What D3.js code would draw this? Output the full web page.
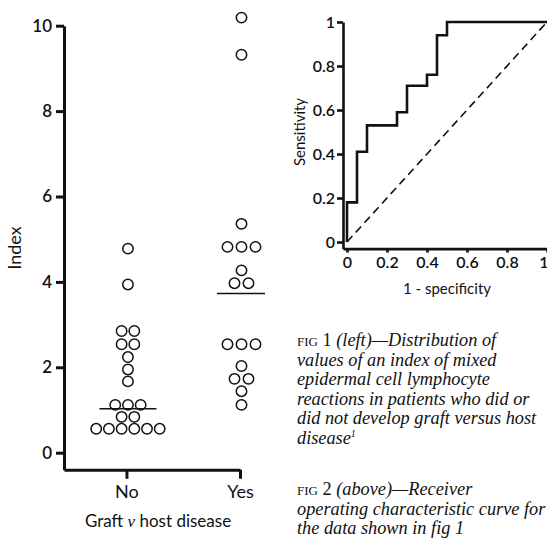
<!DOCTYPE html>
<html>
<head>
<meta charset="utf-8">
<script src="https://cdn.jsdelivr.net/npm/d3@7"></script>
<style>
  body { margin: 0; background: #fff; }
  svg { display: block; }
  .ax text { font-family: Lato, sans-serif; font-weight: 600; fill: #111; }
  .ax path, .ax line { stroke: #111; }
  .cap { font-family: "Liberation Serif", serif; font-style: italic; font-size: 18.3px; fill: #111; }
</style>
</head>
<body>
<script>
// fig 1: index for each patient
const groups = ["No", "Yes"];
const noValues = [4.78, 3.94, 2.85, 2.85, 2.54, 2.54, 2.24, 1.95, 1.67,
    1.12, 1.12, 1.12, 0.84, 0.84, 0.56, 0.56, 0.56, 0.56, 0.56, 0.56];
const yesValues = [10.19, 9.32, 5.36, 4.82, 4.82, 4.82, 4.27, 3.97, 3.97,
    2.54, 2.54, 2.54, 2.03, 1.73, 1.73, 1.44, 1.12];
const medians = [1.03, 3.73];
const indexTicks = [0, 2, 4, 6, 8, 10];

// fig 2: ROC step curve
const fpr = [0, 0, 0.05, 0.05, 0.1, 0.1, 0.25, 0.25, 0.3, 0.3, 0.4, 0.4, 0.45, 0.45, 0.5, 0.5, 1];
const tpr = [0, 0.18, 0.18, 0.41, 0.41, 0.53, 0.53, 0.59, 0.59, 0.71, 0.71, 0.76, 0.76, 0.94, 0.94, 1, 1];
const chance = [0, 1];
const rocTicks = [0, 0.2, 0.4, 0.6, 0.8, 1];
const rocTickLabels = ["0", "0.2", "0.4", "0.6", "0.8", "1"];

const w = 547, h = 538;

let svg = d3.select("body").append("svg")
    .attr("width", w)
    .attr("height", h);

// ---------- fig 1 ----------
let y = d3.scaleLinear().domain([0, 10]).range([452.7, 25.7]);
let x = d3.scaleLinear().domain([-0.55, 1]).range([64, 240]);

let yAxis = d3.axisLeft(y.copy().domain([-0.4, 10]).range([y(-0.4), y(10)]))
    .tickValues(indexTicks)
    .tickFormat(d3.format("d"))
    .tickSize(8)
    .tickPadding(4)
    .tickSizeOuter(0);

svg.append("g")
    .attr("class", "ax")
    .attr("transform", "translate(64,0)")
    .call(yAxis)
    .call(g => g.selectAll("path, line").attr("stroke-width", 3))
    .call(g => g.selectAll("text").attr("font-size", 17));

let xAxis = d3.axisBottom(x)
    .tickValues([0, 1])
    .tickFormat(i => groups[i])
    .tickSize(9)
    .tickPadding(6)
    .tickSizeOuter(0);

svg.append("g")
    .attr("class", "ax")
    .attr("transform", "translate(0," + y(-0.4) + ")")
    .call(xAxis)
    .call(g => g.selectAll("path, line").attr("stroke-width", 3))
    .call(g => g.selectAll("text").attr("font-size", 18).style("font-weight", 400));

// spread equal values side by side
function dodge(vals, gap) {
    let counts = d3.rollup(vals, v => v.length, d => d);
    let seen = new Map();
    return vals.map(v => {
        let n = counts.get(v), i = seen.get(v) || 0;
        seen.set(v, i + 1);
        return { v: v, dx: (i - (n - 1) / 2) * gap };
    });
}

[noValues, yesValues].forEach((vals, gi) => {
    svg.append("g")
        .selectAll("circle")
        .data(dodge(vals, gi == 0 ? 12.7 : 14))
        .enter()
        .append("circle")
        .attr("cx", d => x(gi) + 1.5 + d.dx)
        .attr("cy", d => y(d.v))
        .attr("r", 5.2)
        .attr("fill", "#fff")
        .attr("stroke", "#111")
        .attr("stroke-width", 1.5);
});

svg.selectAll(".median")
    .data(medians)
    .enter()
    .append("line")
    .attr("class", "median")
    .attr("x1", (d, i) => x(i) + (i == 0 ? -27 : -23))
    .attr("x2", (d, i) => x(i) + (i == 0 ? 30 : 25))
    .attr("y1", d => y(d))
    .attr("y2", d => y(d))
    .attr("stroke", "#111")
    .attr("stroke-width", 1.6);

svg.append("text")
    .attr("transform", "translate(16," + 248 + ") rotate(-90)")
    .attr("text-anchor", "middle")
    .attr("dominant-baseline", "middle")
    .attr("font-family", "Lato, sans-serif")
    .attr("font-size", 18)
    .attr("fill", "#111")
    .text("Index");

svg.append("text")
    .attr("x", 158)
    .attr("y", 523)
    .attr("text-anchor", "middle")
    .attr("dominant-baseline", "middle")
    .attr("font-family", "Lato, sans-serif")
    .attr("font-size", 17)
    .attr("fill", "#111")
    .call(t => {
        t.append("tspan").text("Graft ");
        t.append("tspan").attr("font-style", "italic").attr("font-family", "Liberation Serif, serif").text("v");
        t.append("tspan").text(" host disease");
    });

// ---------- fig 2 ----------
let xr = d3.scaleLinear().domain([0, 1]).range([347, 547]);
let yr = d3.scaleLinear().domain([0, 1]).range([242, 22]);

let rocY = d3.axisLeft(yr.copy().domain([-0.03, 1]).range([yr(-0.03), yr(1)]))
    .tickValues(rocTicks)
    .tickFormat((d, i) => rocTickLabels[i])
    .tickSize(6)
    .tickPadding(2)
    .tickSizeOuter(0);

svg.append("g")
    .attr("class", "ax")
    .attr("transform", "translate(343,0)")
    .call(rocY)
    .call(g => g.selectAll("path, line").attr("stroke-width", 2.6))
    .call(g => g.selectAll("text").attr("font-size", 16));

let rocX = d3.axisBottom(xr.copy().domain([-0.02, 1]).range([xr(-0.02), xr(1)]))
    .tickValues(rocTicks)
    .tickFormat((d, i) => rocTickLabels[i])
    .tickSize(4)
    .tickPadding(4)
    .tickSizeOuter(0);

svg.append("g")
    .attr("class", "ax")
    .attr("transform", "translate(0," + yr(-0.03) + ")")
    .call(rocX)
    .call(g => g.selectAll("path, line").attr("stroke-width", 2.6))
    .call(g => g.selectAll("text").attr("font-size", 16))
    // last label sits on the page edge: keep it inside
    .call(g => g.selectAll(".tick:last-of-type text").attr("text-anchor", "end").attr("dx", 1));

let line = d3.line()
    .x(i => xr(fpr[i]))
    .y(i => yr(tpr[i]));

svg.append("path")
    .datum(d3.range(fpr.length))
    .attr("d", line)
    .attr("fill", "none")
    .attr("stroke", "#111")
    .attr("stroke-width", 2.6)
    .attr("stroke-linejoin", "miter");

svg.append("path")
    .datum(chance)
    .attr("d", d3.line().x(d => xr(d)).y(d => yr(d)))
    .attr("fill", "none")
    .attr("stroke", "#111")
    .attr("stroke-width", 1.6)
    .attr("stroke-dasharray", "8,5");

svg.append("text")
    .attr("transform", "translate(301,132) rotate(-90)")
    .attr("text-anchor", "middle")
    .attr("dominant-baseline", "middle")
    .attr("font-family", "Lato, sans-serif")
    .attr("font-size", 15)
    .attr("fill", "#111")
    .text("Sensitivity");

svg.append("text")
    .attr("x", 447)
    .attr("y", 290)
    .attr("text-anchor", "middle")
    .attr("dominant-baseline", "middle")
    .attr("font-family", "Lato, sans-serif")
    .attr("font-size", 15)
    .attr("fill", "#111")
    .text("1 - specificity");

// ---------- captions ----------
function caption(label, lead, rest, y0) {
    let t = svg.append("text").attr("class", "cap").attr("y", y0);
    t.append("tspan").attr("x", 297).attr("font-style", "normal").attr("font-size", 13).text("FIG");
    t.append("tspan").attr("font-style", "normal").text(" " + label + " ");
    t.append("tspan").text(lead);
    rest.forEach((s, i) => {
        let r = svg.append("text").attr("class", "cap")
            .attr("x", 297)
            .attr("y", y0 + (i + 1) * 19.5)
            .text(s);
        if (s == "disease") {
            r.append("tspan").attr("font-size", 10).attr("dy", -7).text("1");
        }
    });
}

caption("1", "(left)\u2014Distribution of", [
    "values of an index of mixed",
    "epidermal cell lymphocyte",
    "reactions in patients who did or",
    "did not develop graft versus host",
    "disease"
], 346);

caption("2", "(above)\u2014Receiver", [
    "operating characteristic curve for",
    "the data shown in fig 1"
], 495);
</script>
</body>
</html>
